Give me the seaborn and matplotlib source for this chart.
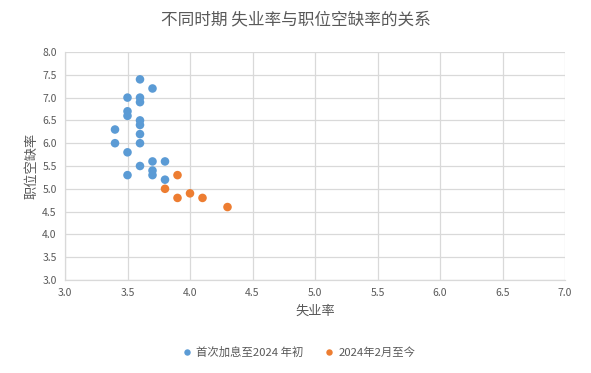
import seaborn as sns
import pandas as pd
import matplotlib.pyplot as plt
from matplotlib import use

use('agg')

# 首次加息至2024年初
early_x = [3.6, 3.7, 3.5, 3.6, 3.6, 3.5, 3.5, 3.6, 3.6, 3.4, 3.6, 3.4, 3.6, 3.5,
           3.7, 3.8, 3.6, 3.7, 3.7, 3.5, 3.8]
early_y = [7.4, 7.2, 7.0, 7.0, 6.9, 6.7, 6.6, 6.5, 6.4, 6.3, 6.2, 6.0, 6.0, 5.8,
           5.6, 5.6, 5.5, 5.4, 5.3, 5.3, 5.2]
# 2024年2月至今
late_x = [3.9, 3.8, 4.0, 3.9, 4.1, 4.3]
late_y = [5.3, 5.0, 4.9, 4.8, 4.8, 4.6]

series_names = ['首次加息至2024 年初', '2024年2月至今']
x_ticks = [3.0, 3.5, 4.0, 4.5, 5.0, 5.5, 6.0, 6.5, 7.0]
y_ticks = [3.0, 3.5, 4.0, 4.5, 5.0, 5.5, 6.0, 6.5, 7.0, 7.5, 8.0]

df = pd.DataFrame({
    'x': early_x + late_x,
    'y': early_y + late_y,
    'period': [series_names[0]] * len(early_x) + [series_names[1]] * len(late_x),
})

sns.set_theme(style='whitegrid')
plt.rcParams['font.family'] = ['Noto Sans CJK SC', 'DejaVu Sans']

text_color = '#595959'
fig = plt.figure(figsize=(5.91, 3.73), dpi=100, facecolor='white')
ax = fig.add_axes([65 / 591, 1 - 280 / 373, 500 / 591, 228 / 373])

sns.scatterplot(data=df, x='x', y='y', hue='period', ax=ax,
                palette=['#5B9BD5', '#ED7D31'], s=38, edgecolor='none',
                legend=True)

ax.set_xlim(3.0, 7.0)
ax.set_ylim(3.0, 8.0)
ax.set_xticks(x_ticks)
ax.set_yticks(y_ticks)
ax.set_xticklabels([f'{t:.1f}' for t in x_ticks])
ax.set_yticklabels([f'{t:.1f}' for t in y_ticks])
ax.tick_params(axis='both', colors=text_color, labelsize=7.5, length=0, pad=6)
ax.grid(True, color='#D9D9D9', linewidth=0.9)
for side in ['top', 'right']:
    ax.spines[side].set_visible(False)
for side in ['left', 'bottom']:
    ax.spines[side].set_color('#D9D9D9')
    ax.spines[side].set_linewidth(0.9)

ax.set_xlabel('失业率', color=text_color, fontsize=9.5, labelpad=5)
ax.set_ylabel('职位空缺率', color=text_color, fontsize=9.5, labelpad=3)

fig.suptitle('不同时期 失业率与职位空缺率的关系', x=0.5, y=0.97,
             color=text_color, fontsize=12)

handles, labels = ax.get_legend_handles_labels()
ax.legend_.remove()
fig.legend(handles, labels, loc='center', bbox_to_anchor=(0.5, 1 - 352 / 373),
           ncol=2, frameon=False, fontsize=8.2, labelcolor=text_color,
           handletextpad=-0.2, columnspacing=1.3, markerscale=0.75)

fig.savefig('out.png', dpi=100, facecolor='white')
